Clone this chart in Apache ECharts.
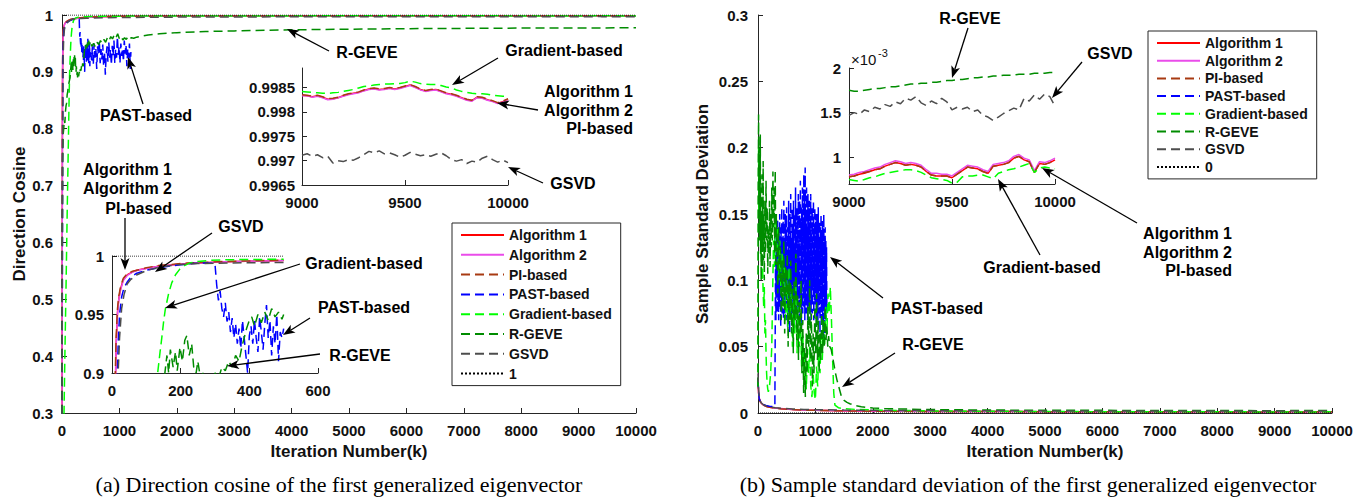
<!DOCTYPE html>
<html>
<head>
<meta charset="utf-8">
<script src="https://cdn.jsdelivr.net/npm/echarts@6/dist/echarts.min.js"></script>
<style>
  html, body { margin: 0; padding: 0; background: #fff; }
  #chart { width: 1369px; height: 504px; }
</style>
</head>
<body>
<div id="chart"></div>
<script>
// ---------------------------------------------------------------------------
// Tick labels and legend entries
// ---------------------------------------------------------------------------
const seriesNames = ['Algorithm 1', 'Algorithm 2', 'PI-based', 'PAST-based', 'Gradient-based', 'R-GEVE', 'GSVD'];
const iterTicks = [0, 1000, 2000, 3000, 4000, 5000, 6000, 7000, 8000, 9000, 10000];
const cosTicks = [0.3, 0.4, 0.5, 0.6, 0.7, 0.8, 0.9, 1];
const cosZoomTicks = [0.9965, 0.997, 0.9975, 0.998, 0.9985];
const earlyIterTicks = [0, 200, 400, 600];
const earlyCosTicks = [0.9, 0.95, 1];
const stdTicks = [0, 0.05, 0.1, 0.15, 0.2, 0.25, 0.3];
const stdZoomTicks = [1, 1.5, 2];          // in units of 10^-3
const zoomIterTicks = [9000, 9500, 10000];

// Tail segments (9000..10000) are listed every 25 iterations
const TAIL_START = 9000;
const TAIL_STEP = 25;

// ---------------------------------------------------------------------------
// (a) Direction cosine, [iteration, value]
// ---------------------------------------------------------------------------
const alg1Cos = [[0,0.18],[4,0.58],[8,0.86],[12,0.925],[16,0.952],[20,0.964],[25,0.972],[33,0.98],[45,0.984],[60,0.9865],[75,0.988],[100,0.9895],[140,0.9915],[220,0.9935],[330,0.995],[500,0.9962],[700,0.997],[1000,0.9976],[1500,0.998],[2000,0.9981],[3000,0.9982],[4000,0.99835],[5000,0.99832],[6000,0.99838],[7000,0.99836],[8000,0.99834],[8500,0.9984]];
const alg2Cos = [[0,0.17],[4,0.56],[8,0.85],[12,0.922],[16,0.95],[20,0.963],[25,0.971],[33,0.979],[45,0.9835],[60,0.9862],[75,0.9878],[100,0.9894],[140,0.9914],[220,0.9934],[330,0.995],[500,0.9962],[700,0.997],[1000,0.9976],[1500,0.998],[2000,0.9981],[3000,0.9982],[4000,0.99834],[5000,0.99832],[6000,0.99837],[7000,0.99836],[8000,0.99833],[8500,0.9984]];
const piCos = [[0,0.2],[4,0.6],[8,0.88],[12,0.93],[16,0.955],[20,0.966],[25,0.974],[33,0.981],[45,0.985],[60,0.987],[75,0.988],[100,0.99],[140,0.992],[220,0.994],[330,0.9953],[500,0.9965],[700,0.9972],[1000,0.9977],[1500,0.998],[2000,0.9981],[3000,0.9982],[4000,0.99836],[5000,0.99833],[6000,0.99838],[7000,0.99835],[8000,0.99834],[8500,0.9984]];
const pastCos = [[0,0.15],[6,0.5],[10,0.75],[14,0.88],[18,0.925],[22,0.95],[28,0.965],[35,0.973],[45,0.978],[55,0.982],[70,0.985],[90,0.987],[110,0.9885],[140,0.99],[170,0.9915],[200,0.9925],[230,0.9935],[260,0.994],[290,0.9938],[300,0.993],[305,0.975],[310,0.962],[315,0.97],[320,0.955],[325,0.948],[330,0.96],[335,0.944],[340,0.952],[345,0.935],[350,0.947],[355,0.93],[360,0.942],[365,0.925],[370,0.938],[375,0.921],[380,0.945],[385,0.93],[390,0.915],[395,0.9],[400,0.932],[405,0.94],[410,0.925],[415,0.945],[420,0.93],[425,0.918],[430,0.948],[435,0.935],[440,0.92],[445,0.942],[450,0.958],[455,0.93],[460,0.945],[465,0.915],[470,0.94],[475,0.925],[480,0.95],[485,0.91],[490,0.935],[495,0.93],[500,0.938],[515,0.92],[530,0.945],[545,0.912],[560,0.95],[575,0.925],[590,0.94],[605,0.905],[620,0.945],[635,0.93],[650,0.955],[665,0.915],[680,0.94],[695,0.922],[710,0.948],[725,0.91],[740,0.936],[755,0.895],[770,0.93],[785,0.945],[800,0.918],[815,0.952],[830,0.925],[845,0.94],[860,0.912],[875,0.946],[890,0.928],[905,0.955],[920,0.915],[935,0.94],[950,0.925],[965,0.962],[980,0.93],[995,0.945],[1010,0.915],[1025,0.95],[1040,0.928],[1055,0.942],[1070,0.918],[1085,0.955],[1100,0.932],[1115,0.948],[1130,0.91],[1145,0.94],[1160,0.925],[1175,0.95],[1190,0.905],[1200,0.935]];
const gradCos = [[0,0.1],[20,0.2],[35,0.3],[50,0.4],[70,0.52],[90,0.65],[105,0.74],[115,0.8],[125,0.86],[133,0.9],[140,0.918],[145,0.93],[150,0.943],[155,0.954],[165,0.968],[174,0.977],[185,0.984],[198,0.989],[212,0.992],[227,0.994],[250,0.9953],[285,0.9963],[330,0.9968],[400,0.997],[500,0.9973],[700,0.9977],[1000,0.998],[1500,0.9982],[2000,0.9983],[3000,0.9984],[4000,0.99845],[5000,0.99848],[6000,0.99846],[7000,0.99848],[8000,0.99845],[8500,0.99846]];
const rgeveCos = [[0,0.2],[5,0.6],[10,0.74],[15,0.77],[20,0.79],[30,0.8],[40,0.815],[50,0.81],[60,0.83],[70,0.84],[80,0.845],[90,0.86],[100,0.865],[110,0.875],[120,0.88],[130,0.885],[140,0.89],[150,0.89],[160,0.915],[165,0.9],[170,0.92],[178,0.905],[185,0.918],[190,0.902],[198,0.922],[205,0.91],[212,0.928],[218,0.932],[225,0.915],[232,0.925],[238,0.905],[245,0.9],[250,0.91],[258,0.895],[265,0.9],[272,0.89],[280,0.898],[290,0.892],[300,0.9],[310,0.895],[320,0.905],[330,0.902],[340,0.91],[350,0.905],[360,0.915],[370,0.91],[378,0.922],[385,0.93],[392,0.938],[400,0.945],[407,0.948],[415,0.94],[425,0.95],[435,0.943],[445,0.952],[455,0.945],[465,0.955],[475,0.948],[485,0.952],[495,0.946],[500,0.95],[520,0.945],[550,0.95],[580,0.944],[610,0.952],[640,0.948],[670,0.955],[700,0.95],[730,0.957],[760,0.952],[790,0.96],[820,0.955],[850,0.962],[880,0.958],[910,0.965],[940,0.96],[970,0.967],[1000,0.958],[1030,0.962],[1060,0.956],[1090,0.96],[1120,0.957],[1150,0.962],[1180,0.958],[1210,0.96],[1250,0.959],[1300,0.961],[1400,0.963],[1500,0.965],[1700,0.967],[2000,0.969],[2500,0.971],[3000,0.972],[4000,0.974],[5000,0.975],[6000,0.976],[7000,0.9765],[8000,0.977],[9000,0.9772],[10000,0.9775]];
const gsvdCos = [[0,0.15],[5,0.5],[10,0.75],[14,0.86],[18,0.9],[22,0.93],[28,0.955],[35,0.967],[44,0.976],[55,0.98],[73,0.984],[100,0.9875],[131,0.99],[160,0.9915],[189,0.9925],[250,0.9935],[334,0.994],[420,0.9943],[500,0.9945],[700,0.995],[1000,0.9955],[1500,0.996],[2000,0.9963],[3000,0.9966],[4000,0.9968],[5000,0.9969],[6000,0.997],[7000,0.997],[8000,0.9971],[8500,0.997]];
const oneLine = [[0,1],[10000,1]];

// 9000..10000 tails of the direction cosine
const alg1CosTail = [.99834,.99833,.99831,.99833,.99830,.99826,.99827,.99829,.99833,.99836,.99838,.99840,.99844,.99847,.99848,.99846,.99847,.99849,.99847,.99849,.99852,.99855,.99851,.99846,.99843,.99845,.99846,.99842,.99838,.99836,.99833,.99829,.99825,.99823,.99830,.99829,.99825,.99822,.99818,.99821,.99826];
const alg2CosTail = [.99833,.99833,.99830,.99832,.99829,.99825,.99826,.99829,.99832,.99835,.99837,.99839,.99843,.99846,.99847,.99845,.99846,.99848,.99846,.99848,.99851,.99854,.99850,.99845,.99842,.99844,.99845,.99841,.99837,.99835,.99832,.99828,.99824,.99822,.99829,.99828,.99824,.99821,.99817,.99820,.99825];
const piCosTail = [.99835,.99834,.99832,.99834,.99831,.99827,.99828,.99830,.99834,.99837,.99839,.99841,.99845,.99848,.99849,.99847,.99848,.99850,.99848,.99850,.99853,.99856,.99852,.99847,.99844,.99846,.99847,.99843,.99839,.99837,.99834,.99830,.99826,.99824,.99831,.99830,.99826,.99823,.99819,.99822,.99827];
const gradCosTail = [.99842,.99841,.99840,.99839,.99838,.99838,.99839,.99840,.99842,.99844,.99846,.99849,.99852,.99853,.99855,.99856,.99857,.99857,.99858,.99858,.99860,.99863,.99861,.99858,.99857,.99856,.99856,.99854,.99851,.99849,.99845,.99842,.99840,.99838,.99837,.99837,.99836,.99834,.99833,.99832,.99832];
const gsvdCosTail = [.99711,.99714,.99709,.99712,.99706,.99709,.99695,.99700,.99698,.99702,.99701,.99706,.99712,.99719,.99716,.99720,.99714,.99716,.99712,.99707,.99711,.99717,.99713,.99710,.99712,.99709,.99713,.99716,.99710,.99702,.99699,.99702,.99694,.99699,.99697,.99705,.99709,.99702,.99697,.99701,.99696];

// ---------------------------------------------------------------------------
// (b) Sample standard deviation, [iteration, value]
// ---------------------------------------------------------------------------
const alg1Std = [[0,0.024],[10,0.015],[20,0.011],[40,0.0085],[60,0.0072],[100,0.0058],[150,0.0049],[200,0.0044],[300,0.0037],[400,0.0032],[600,0.0026],[800,0.0022],[1000,0.002],[1500,0.0016],[2000,0.0014],[3000,0.0012],[4000,0.0011],[5000,0.001],[6000,0.00095],[7000,0.0009],[8000,0.00087],[8500,0.00083]];
const alg2Std = [[0,0.026],[10,0.016],[20,0.0115],[40,0.0088],[60,0.0074],[100,0.006],[150,0.005],[200,0.0045],[300,0.0038],[400,0.0033],[600,0.0027],[800,0.0023],[1000,0.0021],[1500,0.0017],[2000,0.0015],[3000,0.0012],[4000,0.0011],[5000,0.00102],[6000,0.00097],[7000,0.00092],[8000,0.00089],[8500,0.00085]];
const piStd = [[0,0.025],[10,0.0152],[20,0.0112],[40,0.0086],[60,0.0073],[100,0.0059],[150,0.0049],[200,0.0044],[300,0.0037],[400,0.0032],[600,0.0026],[800,0.0022],[1000,0.002],[1500,0.0016],[2000,0.0014],[3000,0.0012],[4000,0.0011],[5000,0.001],[6000,0.00095],[7000,0.0009],[8000,0.00087],[8500,0.00083]];
const pastStdStart = [[0,0.026],[10,0.016],[20,0.011],[40,0.0085],[60,0.0072],[100,0.0062],[140,0.0056],[200,0.0051],[250,0.0049],[294,0.0048]];
// burst of the PAST-based estimate, sampled every 6 iterations from 300 to 1200
const PAST_BURST_START = 300;
const PAST_BURST_STEP = 6;
const pastStdBurst = [0.005,0.12,0.07,0.14,0.09,0.13,0.075,0.145,0.085,0.12,0.07,0.135,0.08,0.15,0.09,0.125,0.065,0.14,0.085,0.155,0.075,0.13,0.095,0.145,0.07,0.16,0.09,0.125,0.075,0.15,0.1,0.135,0.07,0.155,0.085,0.14,0.065,0.12,0.09,0.16,0.075,0.135,0.06,0.15,0.095,0.165,0.08,0.13,0.07,0.155,0.1,0.14,0.075,0.16,0.085,0.125,0.07,0.15,0.095,0.17,0.08,0.135,0.065,0.155,0.09,0.145,0.075,0.165,0.1,0.13,0.07,0.16,0.085,0.175,0.08,0.14,0.065,0.155,0.095,0.17,0.075,0.145,0.08,0.18,0.1,0.16,0.07,0.185,0.09,0.15,0.075,0.17,0.085,0.14,0.07,0.165,0.095,0.15,0.08,0.16,0.075,0.145,0.09,0.165,0.07,0.135,0.085,0.155,0.075,0.15,0.095,0.16,0.07,0.14,0.085,0.155,0.075,0.15,0.09,0.135,0.065,0.15,0.08,0.145,0.07,0.155,0.09,0.13,0.075,0.145,0.06,0.14,0.085,0.15,0.07,0.135,0.08,0.145,0.065,0.14,0.055,0.15,0.075,0.13,0.06,0.14,0.08,0.13,0.07,0.125,0.075];
const gradStd = [[0,0.02],[5,0.12],[10,0.2],[15,0.15],[20,0.18],[30,0.14],[40,0.16],[50,0.12],[60,0.13],[70,0.1],[80,0.11],[90,0.09],[100,0.08],[110,0.095],[120,0.06],[130,0.07],[140,0.045],[150,0.03],[160,0.022],[170,0.018],[180,0.016],[200,0.02],[220,0.03],[240,0.05],[255,0.09],[270,0.13],[285,0.11],[300,0.15],[320,0.12],[340,0.14],[360,0.1],[380,0.13],[400,0.09],[420,0.12],[440,0.08],[460,0.11],[480,0.07],[500,0.1],[520,0.065],[540,0.11],[560,0.07],[580,0.09],[600,0.05],[620,0.085],[640,0.06],[660,0.095],[680,0.045],[700,0.08],[720,0.05],[740,0.07],[760,0.035],[780,0.06],[800,0.025],[820,0.045],[840,0.018],[860,0.04],[880,0.03],[900,0.05],[920,0.02],[940,0.012],[960,0.03],[980,0.015],[1000,0.01],[1020,0.035],[1040,0.02],[1060,0.05],[1080,0.03],[1100,0.06],[1120,0.04],[1140,0.07],[1160,0.05],[1180,0.08],[1200,0.06],[1220,0.09],[1240,0.075],[1260,0.095],[1280,0.07],[1300,0.04],[1320,0.015],[1340,0.006],[1400,0.004],[1500,0.0032],[1700,0.0027],[2000,0.0023],[2500,0.0019],[3000,0.0016],[4000,0.0013],[5000,0.0011],[6000,0.001],[7000,0.00095],[8000,0.0009],[8500,0.00085]];
const rgeveStd = [[0,0.02],[5,0.17],[10,0.225],[15,0.16],[20,0.2],[25,0.13],[30,0.19],[35,0.14],[40,0.21],[45,0.12],[50,0.17],[55,0.1],[60,0.15],[65,0.125],[70,0.18],[75,0.11],[80,0.16],[85,0.13],[90,0.19],[95,0.115],[100,0.145],[110,0.1],[120,0.16],[130,0.12],[140,0.175],[150,0.13],[160,0.155],[170,0.105],[180,0.14],[190,0.12],[200,0.16],[210,0.11],[220,0.15],[230,0.125],[240,0.17],[250,0.13],[260,0.182],[270,0.14],[280,0.17],[290,0.12],[300,0.183],[310,0.11],[320,0.15],[330,0.13],[345,0.09],[360,0.14],[375,0.1],[390,0.125],[405,0.07],[420,0.115],[435,0.08],[450,0.13],[465,0.06],[480,0.11],[495,0.085],[510,0.12],[525,0.05],[540,0.1],[555,0.07],[570,0.115],[585,0.06],[600,0.095],[615,0.045],[630,0.1],[645,0.07],[660,0.12],[675,0.055],[690,0.09],[705,0.04],[720,0.085],[735,0.06],[750,0.1],[765,0.03],[780,0.07],[795,0.015],[810,0.05],[825,0.012],[840,0.06],[855,0.03],[870,0.08],[885,0.05],[900,0.1],[915,0.04],[930,0.075],[945,0.02],[960,0.06],[975,0.03],[990,0.08],[1005,0.045],[1020,0.09],[1035,0.04],[1050,0.07],[1065,0.03],[1080,0.06],[1095,0.04],[1110,0.075],[1125,0.045],[1140,0.07],[1155,0.05],[1170,0.08],[1185,0.055],[1200,0.065],[1215,0.05],[1230,0.058],[1250,0.05],[1275,0.048],[1300,0.042],[1325,0.036],[1350,0.03],[1375,0.025],[1400,0.021],[1425,0.017],[1450,0.013],[1475,0.011],[1500,0.0095],[1550,0.008],[1600,0.007],[1700,0.0055],[1800,0.0047],[1900,0.0042],[2000,0.0038],[2200,0.0033],[2500,0.003],[3000,0.0026],[3500,0.0024],[4000,0.0022],[5000,0.0021],[6000,0.002],[7000,0.0019],[8000,0.0018],[8500,0.0018]];
const gsvdStd = [[0,0.03],[10,0.018],[20,0.013],[40,0.009],[60,0.0075],[100,0.006],[150,0.0052],[200,0.0047],[300,0.004],[400,0.0036],[600,0.0031],[800,0.0027],[1000,0.0025],[1500,0.0022],[2000,0.002],[3000,0.0018],[4000,0.0017],[5000,0.0016],[6000,0.0016],[7000,0.0015],[8000,0.0015],[8500,0.0015]];
const zeroLine = [[0,0],[10000,0]];

// 9000..10000 tails of the standard deviation, in units of 10^-3
const STD_TAIL_UNIT = 1e-3;
const alg1StdTail = [0.78,0.79,0.81,0.82,0.84,0.86,0.87,0.90,0.92,0.94,0.93,0.91,0.92,0.91,0.89,0.84,0.80,0.79,0.79,0.79,0.77,0.81,0.85,0.89,0.88,0.87,0.84,0.82,0.90,0.91,0.92,0.94,0.99,1.01,0.97,0.95,0.83,0.93,0.92,0.94,0.97];
const alg2StdTail = [0.80,0.81,0.83,0.84,0.86,0.88,0.89,0.92,0.94,0.96,0.95,0.93,0.94,0.93,0.91,0.86,0.82,0.82,0.81,0.81,0.79,0.83,0.87,0.91,0.90,0.89,0.86,0.84,0.92,0.93,0.94,0.96,1.01,1.03,0.99,0.97,0.85,0.95,0.94,0.96,0.99];
const piStdTail = [0.78,0.79,0.81,0.83,0.84,0.86,0.87,0.90,0.92,0.94,0.93,0.91,0.92,0.91,0.89,0.84,0.80,0.79,0.79,0.79,0.77,0.81,0.85,0.89,0.88,0.87,0.84,0.82,0.90,0.91,0.92,0.94,0.99,1.01,0.97,0.95,0.83,0.93,0.92,0.94,0.97];
const gradStdTail = [0.75,0.74,0.73,0.75,0.77,0.78,0.80,0.82,0.83,0.84,0.85,0.86,0.86,0.85,0.83,0.80,0.77,0.76,0.75,0.74,0.71,0.72,0.78,0.79,0.79,0.80,0.80,0.78,0.76,0.82,0.84,0.86,0.87,0.89,0.91,0.93,0.83,0.88,0.89,0.88,0.87];
const rgeveStdTail = [1.75,1.74,1.74,1.75,1.76,1.77,1.77,1.78,1.79,1.79,1.80,1.81,1.82,1.82,1.83,1.83,1.84,1.84,1.85,1.86,1.86,1.87,1.87,1.88,1.89,1.89,1.90,1.90,1.91,1.91,1.92,1.92,1.92,1.93,1.93,1.93,1.94,1.94,1.94,1.95,1.95];
const gsvdStdTail = [1.47,1.50,1.48,1.53,1.51,1.56,1.54,1.59,1.57,1.62,1.60,1.66,1.64,1.68,1.61,1.58,1.63,1.60,1.66,1.62,1.53,1.56,1.54,1.56,1.51,1.53,1.47,1.45,1.41,1.45,1.49,1.52,1.55,1.53,1.66,1.63,1.70,1.65,1.71,1.68,1.57];

// ---------------------------------------------------------------------------
// Assemble full curves
// ---------------------------------------------------------------------------
function withTail(head, tail, unit) {
  const u = unit || 1;
  return head.concat(tail.map((v, i) => [TAIL_START + i * TAIL_STEP, v * u]));
}
const cosData = {
  'Algorithm 1': withTail(alg1Cos, alg1CosTail),
  'Algorithm 2': withTail(alg2Cos, alg2CosTail),
  'PI-based': withTail(piCos, piCosTail),
  'PAST-based': pastCos,
  'Gradient-based': withTail(gradCos, gradCosTail),
  'R-GEVE': rgeveCos,
  'GSVD': withTail(gsvdCos, gsvdCosTail)
};
const stdData = {
  'Algorithm 1': withTail(alg1Std, alg1StdTail, STD_TAIL_UNIT),
  'Algorithm 2': withTail(alg2Std, alg2StdTail, STD_TAIL_UNIT),
  'PI-based': withTail(piStd, piStdTail, STD_TAIL_UNIT),
  'PAST-based': pastStdStart.concat(pastStdBurst.map((v, i) => [PAST_BURST_START + i * PAST_BURST_STEP, v])),
  'Gradient-based': withTail(gradStd, gradStdTail, STD_TAIL_UNIT),
  'R-GEVE': withTail(rgeveStd, rgeveStdTail, STD_TAIL_UNIT),
  'GSVD': withTail(gsvdStd, gsvdStdTail, STD_TAIL_UNIT)
};

// ---------------------------------------------------------------------------
// Styles
// ---------------------------------------------------------------------------
const FONT = '"Liberation Sans", Arial, Helvetica, sans-serif';
const SERIF = '"Liberation Serif", "Times New Roman", serif';
const AXC = '#262626';
const TXT = '#111';
const DASH = [9, 5];
const lineStyles = {
  'Algorithm 1':    { color: '#ff0000', type: 'solid', width: 1.5 },
  'Algorithm 2':    { color: '#ea4cea', type: 'solid', width: 1.5 },
  'PI-based':       { color: '#a83a12', type: DASH, width: 1.5 },
  'PAST-based':     { color: '#0000ff', type: DASH, width: 1.5 },
  'Gradient-based': { color: '#00ff00', type: DASH, width: 1.5 },
  'R-GEVE':         { color: '#008c00', type: DASH, width: 1.5 },
  'GSVD':           { color: '#4d4d4d', type: DASH, width: 1.5 }
};

const plainNumber = v => String(+Number(v).toFixed(4));

function valueAxis(gridIndex, o) {
  return {
    type: 'value', gridIndex,
    min: o.min, max: o.max, interval: o.interval,
    name: o.name || '', nameLocation: 'middle', nameGap: o.nameGap || 0, nameRotate: o.nameRotate,
    nameTextStyle: { color: TXT, fontFamily: FONT, fontWeight: 'bold', fontSize: 17 },
    axisLine: { show: true, onZero: false, lineStyle: { color: AXC, width: 1 } },
    axisTick: { show: true, inside: true, length: 5, lineStyle: { color: AXC, width: 1 },
                customValues: o.ticks },
    splitLine: { show: false },
    axisLabel: { show: true, color: TXT, fontFamily: FONT, fontWeight: 'bold', fontSize: o.fontSize || 15,
                 margin: o.margin, customValues: o.ticks, formatter: o.formatter || plainNumber,
                 showMinLabel: true, showMaxLabel: true }
  };
}

const grids = [
  { left: 62, top: 15, width: 574, height: 398 },    // (a) main
  { left: 302, top: 68, width: 206, height: 117 },   // (a) tail inset
  { left: 112, top: 256, width: 206, height: 117 },  // (a) start inset
  { left: 758, top: 15, width: 574, height: 398 },   // (b) main
  { left: 849, top: 68, width: 206, height: 116 }    // (b) tail inset
];

const xAxes = [
  valueAxis(0, { min: 0, max: 10000, interval: 1000, ticks: iterTicks, margin: 10, name: 'Iteration Number(k)', nameGap: 29 }),
  valueAxis(1, { min: 9000, max: 10000, interval: 500, ticks: zoomIterTicks, margin: 10 }),
  valueAxis(2, { min: 0, max: 600, interval: 200, ticks: earlyIterTicks, margin: 10 }),
  valueAxis(3, { min: 0, max: 10000, interval: 1000, ticks: iterTicks, margin: 10, name: 'Iteration Number(k)', nameGap: 29 }),
  valueAxis(4, { min: 9000, max: 10000, interval: 500, ticks: zoomIterTicks, margin: 10 })
];
const yAxes = [
  valueAxis(0, { min: 0.3, max: 1, interval: 0.1, ticks: cosTicks, margin: 9, name: 'Direction Cosine', nameGap: 31, nameRotate: 90 }),
  valueAxis(1, { min: 0.9965, max: 0.9989, ticks: cosZoomTicks, margin: 7 }),
  valueAxis(2, { min: 0.9, max: 1, interval: 0.05, ticks: earlyCosTicks, margin: 8 }),
  valueAxis(3, { min: 0, max: 0.3, interval: 0.05, ticks: stdTicks, margin: 10, name: 'Sample Standard Deviation', nameGap: 47, nameRotate: 90 }),
  valueAxis(4, { min: 0.0007, max: 0.002, ticks: stdZoomTicks.map(v => v * STD_TAIL_UNIT), margin: 8,
                 formatter: v => String(+(v / STD_TAIL_UNIT).toFixed(3)) })
];

function lineSeries(name, data, axisIndex, style) {
  return {
    type: 'line', name, data,
    xAxisIndex: axisIndex, yAxisIndex: axisIndex,
    symbol: 'none', showSymbol: false, smooth: false, clip: true,
    lineStyle: style, itemStyle: { color: style.color },
    emphasis: { disabled: true }, silent: true
  };
}

const series = [];
// (a) main, tail inset, start inset
seriesNames.forEach(n => series.push(lineSeries(n, cosData[n], 0, lineStyles[n])));
series.push(lineSeries('1', oneLine, 0, { color: '#000', type: 'dotted', width: 1 }));
seriesNames.forEach(n => series.push(lineSeries(n, cosData[n].filter(p => p[0] >= 9000), 1, lineStyles[n])));
seriesNames.forEach(n => series.push(lineSeries(n, cosData[n].filter(p => p[0] <= 500), 2, lineStyles[n])));
series.push(lineSeries('1', oneLine.map(p => [Math.min(p[0], 500), p[1]]), 2, { color: '#000', type: 'dotted', width: 1 }));
// (b) main and tail inset
seriesNames.forEach(n => series.push(lineSeries(n, stdData[n], 3, lineStyles[n])));
series.push(lineSeries('0', zeroLine, 3, { color: '#000', type: 'dotted', width: 1 }));
seriesNames.forEach(n => series.push(lineSeries(n, stdData[n].filter(p => p[0] >= 9000), 4, lineStyles[n])));

const legendText = { color: TXT, fontFamily: FONT, fontWeight: 'bold', fontSize: 14 };
const legendCommon = {
  orient: 'vertical', itemWidth: 43, itemHeight: 14, padding: [5, 9, 5, 8],
  borderColor: AXC, borderWidth: 1, backgroundColor: '#fff', selectedMode: false,
  textStyle: legendText,
  itemStyle: { opacity: 0, borderWidth: 0 }   // line-only keys
};
const legends = [
  Object.assign({ data: seriesNames.concat(['1']), left: 452, top: 223, itemGap: 5.8 }, legendCommon),
  Object.assign({ data: seriesNames.concat(['0']), left: 1148, top: 31, itemGap: 3.7 }, legendCommon)
];

// ---------------------------------------------------------------------------
// Annotations: labels with arrows
// ---------------------------------------------------------------------------
function label(text, x, y, align) {
  return { type: 'text', silent: true, z: 100,
    style: { text, x, y, fill: '#000', font: 'bold 16px ' + FONT,
             align: align || 'center', verticalAlign: 'middle',
             textAlign: align || 'center', textVerticalAlign: 'middle' } };
}
function arrow(x1, y1, x2, y2) {
  const a = Math.atan2(y2 - y1, x2 - x1);
  const L = 12, W = 4.5, N = 3;
  const c = Math.cos(a), s = Math.sin(a);
  const bx = x2 - L * c, by = y2 - L * s;
  const nx = x2 - (L - N) * c, ny = y2 - (L - N) * s;
  return [
    { type: 'line', silent: true, z: 100, shape: { x1, y1, x2: nx, y2: ny }, style: { stroke: '#000', lineWidth: 1.3 } },
    { type: 'polygon', silent: true, z: 100,
      shape: { points: [[x2, y2], [bx - s * W, by + c * W], [nx, ny], [bx + s * W, by - c * W]] },
      style: { fill: '#000' } }
  ];
}
function caption(text, x) {
  return { type: 'text', silent: true, z: 100,
    style: { text, x, y: 484, fill: '#000', font: '22px ' + SERIF,
             align: 'center', verticalAlign: 'middle', textAlign: 'center', textVerticalAlign: 'middle' } };
}

const graphics = [
  // (a)
  label('R-GEVE', 367, 52), ...arrow(329, 51, 287, 29),
  label('Gradient-based', 564, 50), ...arrow(498, 58, 452, 85),
  label('Algorithm 1', 633, 91, 'right'), label('Algorithm 2', 633, 110, 'right'), label('PI-based', 633, 128, 'right'),
  ...arrow(538, 110, 497, 103),
  label('GSVD', 573, 183), ...arrow(543, 183, 508, 167),
  label('PAST-based', 146, 115), ...arrow(143, 104, 128, 57),
  label('Algorithm 1', 172, 169, 'right'), label('Algorithm 2', 172, 188, 'right'), label('PI-based', 172, 208, 'right'),
  ...arrow(125, 218, 125, 270),
  label('GSVD', 241, 226), ...arrow(212, 233, 155, 272),
  label('Gradient-based', 364, 263), ...arrow(300, 264, 165, 308),
  label('PAST-based', 364, 307), ...arrow(310, 318, 283, 335),
  label('R-GEVE', 360, 355), ...arrow(320, 354, 227, 366),
  // (b)
  label('R-GEVE', 970, 18), ...arrow(968, 28, 952, 78),
  label('GSVD', 1110, 53), ...arrow(1082, 62, 1052, 98),
  label('Algorithm 1', 1232, 233, 'right'), label('Algorithm 2', 1232, 252, 'right'), label('PI-based', 1232, 270, 'right'),
  ...arrow(1137, 223, 1042, 168),
  label('Gradient-based', 1042, 267), ...arrow(1040, 255, 998, 179),
  label('PAST-based', 937, 308), ...arrow(883, 298, 830, 257),
  label('R-GEVE', 933, 344), ...arrow(895, 353, 842, 387),
  // exponent of the (b) tail inset
  { type: 'text', silent: true, z: 100,
    style: { text: '×10', x: 851, y: 59, fill: '#111', font: '15px ' + FONT,
             align: 'left', verticalAlign: 'middle', textAlign: 'left', textVerticalAlign: 'middle' } },
  { type: 'text', silent: true, z: 100,
    style: { text: '-3', x: 878, y: 53, fill: '#111', font: '11px ' + FONT,
             align: 'left', verticalAlign: 'middle', textAlign: 'left', textVerticalAlign: 'middle' } },
  // sub-captions
  caption('(a) Direction cosine of the first generalized eigenvector', 339),
  caption('(b) Sample standard deviation of the first generalized eigenvector', 1028)
];

const chart = echarts.init(document.getElementById('chart'), null, { renderer: 'svg' });
chart.setOption({
  animation: false,
  backgroundColor: '#fff',
  grid: grids,
  xAxis: xAxes,
  yAxis: yAxes,
  legend: legends,
  series,
  graphic: graphics
});
</script>
</body>
</html>
